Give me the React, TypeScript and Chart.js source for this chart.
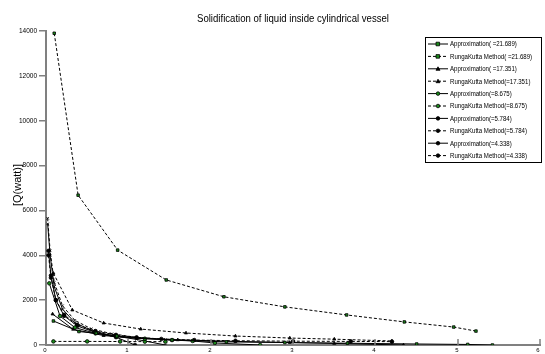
import React, { useEffect, useRef } from "react";
import { Chart, registerables } from "chart.js";

Chart.register(...registerables);

const TITLE = "Solidification of liquid inside cylindrical vessel";
const Y_LABEL = "[Q(watt)]";
const X_TICKS = [0, 1, 2, 3, 4, 5, 6];
const Y_TICKS = [0, 2000, 4000, 6000, 8000, 10000, 12000, 14000];

// Approximation / RungaKutta series (x = time, y = Q in watt)
const approx21X = [0.09, 0.4, 0.61, 0.86, 1.53, 2.19, 2.9, 3.66, 4.5, 5.12, 5.42];
const approx21Y = [1070, 600, 520, 400, 220, 140, 110, 80, 45, 25, 0];
const rk21X = [0.1, 0.39, 0.87, 1.46, 2.16, 2.9, 3.65, 4.35, 4.95, 5.22];
const rk21Y = [13900, 6680, 4230, 2900, 2150, 1700, 1340, 1030, 800, 620];

const approx17X = [0.08, 0.33, 0.7, 1.1, 1.6, 2.3, 2.96, 3.5, 4.34];
const approx17Y = [1380, 700, 420, 300, 230, 160, 110, 70, 0];
const rk17X = [0.09, 0.32, 0.7, 1.15, 1.7, 2.3, 2.96, 3.5, 4.2];
const rk17Y = [3200, 1560, 980, 710, 535, 400, 310, 260, 180];

const approx8X = [0.04, 0.17, 0.35, 0.6, 0.86, 1.2, 1.53, 1.78, 2.05, 2.6];
const approx8Y = [2750, 1290, 780, 520, 380, 280, 220, 180, 90, 0];
const rk8X = [0.09, 0.5, 0.9, 1.2, 1.45];
const rk8Y = [160, 160, 155, 150, 150];

const approx5X = [0.02, 0.05, 0.1, 0.2, 0.35, 0.55, 0.8, 1.1, 1.45];
const approx5Y = [5400, 4000, 2600, 1600, 1000, 650, 420, 250, 0];
const rk5X = [0.02, 0.05, 0.1, 0.2, 0.35, 0.55, 0.8, 1.1, 1.45, 1.8];
const rk5Y = [5650, 4200, 2800, 1750, 1100, 720, 500, 340, 250, 190];

const approx4X = [0.03, 0.06, 0.12, 0.22, 0.38, 0.6, 0.85, 1.08];
const approx4Y = [4200, 3100, 2000, 1300, 850, 560, 350, 0];
const rk4X = [0.03, 0.06, 0.12, 0.22, 0.38, 0.6, 0.85, 1.1, 1.4, 1.8, 2.3, 3.0, 3.7, 4.2];
const rk4Y = [4000, 3000, 2000, 1350, 900, 620, 450, 340, 270, 220, 190, 170, 160, 150];

const LABELS = [
  "Approximation( =21.689)",
  "RungaKutta Method( =21.689)",
  "Approximation( =17.351)",
  "RungaKutta Method(=17.351)",
  "Approximation(=8.675)",
  "RungaKutta Method(=8.675)",
  "Approximation(=5.784)",
  "RungaKutta Method(=5.784)",
  "Approximation(=4.338)",
  "RungaKutta Method(=4.338)",
];

const GREEN = "#1a8a1a";
const FONT = "'Liberation Sans', Arial, sans-serif";

function pts(xs: number[], ys: number[]) {
  return xs.map((x, i) => ({ x, y: ys[i] }));
}

export default function App() {
  const ref = useRef<HTMLCanvasElement | null>(null);

  useEffect(() => {
    if (!ref.current) return;
    const series = [
      { d: pts(approx21X, approx21Y), dash: false, style: "rect", fill: GREEN },
      { d: pts(rk21X, rk21Y), dash: true, style: "rect", fill: GREEN },
      { d: pts(approx17X, approx17Y), dash: false, style: "triangle", fill: "#000" },
      { d: pts(rk17X, rk17Y), dash: true, style: "triangle", fill: "#000" },
      { d: pts(approx8X, approx8Y), dash: false, style: "circle", fill: GREEN },
      { d: pts(rk8X, rk8Y), dash: true, style: "circle", fill: GREEN },
      { d: pts(approx5X, approx5Y), dash: false, style: "crossRot", fill: "#000" },
      { d: pts(rk5X, rk5Y), dash: true, style: "crossRot", fill: "#000" },
      { d: pts(approx4X, approx4Y), dash: false, style: "circle", fill: "#000" },
      { d: pts(rk4X, rk4Y), dash: true, style: "circle", fill: "#000" },
    ];

    const datasets = series.map((s, i) => ({
      label: LABELS[i],
      data: s.d,
      borderColor: "#000",
      borderWidth: 1,
      borderDash: s.dash ? [3, 2] : [],
      pointStyle: s.style as any,
      pointRadius: 1.8,
      pointBackgroundColor: s.fill,
      pointBorderColor: "#000",
      pointBorderWidth: 0.8,
      showLine: true,
      tension: 0,
      fill: false,
    }));

    const deco = {
      id: "deco",
      afterDraw(chart: any) {
        const ctx = chart.ctx as CanvasRenderingContext2D;
        const xs = chart.scales.x;
        const area = chart.chartArea;
        ctx.save();
        // inward x ticks and x labels
        ctx.strokeStyle = "#808080";
        ctx.lineWidth = 1.5;
        ctx.setLineDash([]);
        ctx.fillStyle = "#000";
        ctx.font = `6px ${FONT}`;
        ctx.textAlign = "center";
        ctx.textBaseline = "middle";
        for (const t of X_TICKS) {
          const px = Math.round(xs.getPixelForValue(t));
          ctx.beginPath();
          ctx.moveTo(px, area.bottom);
          ctx.lineTo(px, area.bottom - 6);
          ctx.stroke();
          ctx.fillText(String(t), t === 6 ? px - 2 : px - 1, area.bottom + 5);
        }
        // title
        ctx.fillStyle = "#000";
        ctx.font = `10px ${FONT}`;
        ctx.fillText(TITLE, 293, 19, 192);
        // y label
        ctx.save();
        ctx.translate(18, 185);
        ctx.rotate(-Math.PI / 2);
        ctx.font = `11px ${FONT}`;
        ctx.fillText(Y_LABEL, 0, 0, 56);
        ctx.restore();
        // legend
        const bx = 425, by = 37, bw = 116, bh = 125;
        ctx.fillStyle = "#fff";
        ctx.fillRect(bx, by, bw, bh);
        ctx.strokeStyle = "#000";
        ctx.lineWidth = 1;
        ctx.strokeRect(bx + 0.5, by + 0.5, bw, bh);
        ctx.font = `7px ${FONT}`;
        ctx.textAlign = "left";
        for (let i = 0; i < series.length; i++) {
          const y = by + 7 + i * 12.4;
          const s = series[i];
          ctx.strokeStyle = "#000";
          ctx.lineWidth = 1;
          ctx.setLineDash(s.dash ? [3, 2] : []);
          ctx.beginPath();
          ctx.moveTo(428, y);
          ctx.lineTo(448, y);
          ctx.stroke();
          ctx.setLineDash([]);
          ctx.fillStyle = s.fill;
          ctx.strokeStyle = "#000";
          ctx.lineWidth = 0.8;
          ctx.beginPath();
          if (s.style === "rect") {
            ctx.rect(436, y - 1.8, 3.6, 3.6);
          } else if (s.style === "triangle") {
            ctx.moveTo(438, y - 2);
            ctx.lineTo(440, y + 1.5);
            ctx.lineTo(436, y + 1.5);
            ctx.closePath();
          } else {
            ctx.arc(438, y, 1.8, 0, Math.PI * 2);
          }
          ctx.fill();
          ctx.stroke();
          ctx.fillStyle = "#000";
          const full = ctx.measureText(LABELS[i]).width;
          ctx.fillText(LABELS[i], 450, y + 0.5, full * 0.87);
        }
        ctx.restore();
      },
    };

    const chart = new Chart(ref.current, {
      type: "scatter",
      data: { datasets },
      options: {
        animation: false,
        responsive: false,
        maintainAspectRatio: false,
        layout: { padding: { top: 31, right: 1, left: 0, bottom: 0 } },
        plugins: {
          legend: { display: false },
          title: { display: false },
          tooltip: { enabled: false },
        },
        scales: {
          x: {
            type: "linear",
            min: 0,
            max: 6,
            afterFit: (s: any) => { s.height = 9; },
            afterBuildTicks: (s: any) => { s.ticks = X_TICKS.map((v) => ({ value: v })); },
            border: { color: "#808080", width: 2 },
            grid: { display: false, drawOnChartArea: false },
            ticks: { display: false },
          },
          y: {
            type: "linear",
            min: 0,
            max: 14000,
            afterFit: (s: any) => { s.width = 46; },
            afterBuildTicks: (s: any) => { s.ticks = Y_TICKS.map((v) => ({ value: v })); },
            border: { color: "#808080", width: 2 },
            grid: { drawOnChartArea: false, color: "#808080", lineWidth: 1.5, tickLength: 7 },
            ticks: {
              padding: 2,
              font: { size: 6.5, family: FONT },
              color: "#000",
              autoSkip: false,
              callback: (v: any) => String(v),
            },
          },
        },
      },
      plugins: [deco],
    });
    return () => chart.destroy();
  }, []);

  return (
    <div style={{ position: "fixed", left: 0, top: 0, width: 545, height: 354, background: "#fff" }}>
      <canvas ref={ref} width={545} height={354} style={{ width: 545, height: 354 }} />
    </div>
  );
}
